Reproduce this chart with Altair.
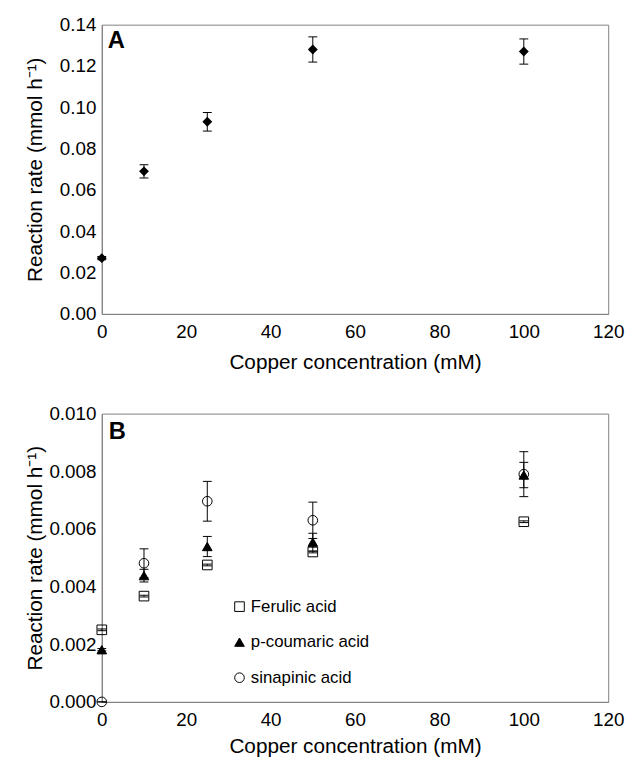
import altair as alt
import pandas as pd

# ---------------- data ----------------
copper = [0, 10, 25, 50, 100]

# Panel A
rate_a = [0.027, 0.069, 0.093, 0.128, 0.127]
err_a = [0.0008, 0.0032, 0.0045, 0.0061, 0.0061]

# Panel B
series_names = ["Ferulic acid", "p-coumaric acid", "sinapinic acid"]
ferulic = [0.0025, 0.00367, 0.00475, 0.0052, 0.00625]
ferulic_err = [0.00003, 0.00003, 0.00003, 0.00003, 0.00003]
coumaric = [0.00181, 0.00438, 0.00539, 0.00554, 0.00787]
coumaric_err = [0.00004, 0.00022, 0.00035, 0.00031, 0.00044]
sinapinic = [0.0, 0.00481, 0.00696, 0.0063, 0.0079]
sinapinic_err = [0.0, 0.0005, 0.00069, 0.00063, 0.00078]

x_ticks = [0, 20, 40, 60, 80, 100, 120]
y_ticks_a = [0.0, 0.02, 0.04, 0.06, 0.08, 0.10, 0.12, 0.14]
y_ticks_b = [0.0, 0.002, 0.004, 0.006, 0.008, 0.010]

# ---------------- tables ----------------
df_a = pd.DataFrame({"x": copper, "y": rate_a, "err": err_a})
df_a["lo"] = df_a["y"] - df_a["err"]
df_a["hi"] = df_a["y"] + df_a["err"]

rows = []
for name, vals, errs in zip(series_names,
                            [ferulic, coumaric, sinapinic],
                            [ferulic_err, coumaric_err, sinapinic_err]):
    for xv, yv, ev in zip(copper, vals, errs):
        rows.append({"series": name, "x": xv, "y": yv, "lo": yv - ev, "hi": yv + ev})
df_b = pd.DataFrame(rows)

FONT = "Liberation Sans"
GRAY = "#808080"
W = 513

x_title = "Copper concentration (mM)"
y_title = "Reaction rate (mmol h\u207b\u00b9)"


def x_enc(lpad, tpad):
    return alt.X("x:Q",
                 scale=alt.Scale(domain=[0, 120], nice=False, zero=False),
                 axis=alt.Axis(values=x_ticks, title=x_title, labelFlush=False,
                               labelOverlap=False, labelPadding=lpad, titlePadding=tpad))


def y_axis(vals, fmt, tpad):
    return alt.Axis(values=vals, format=fmt, title=y_title, labelPadding=6,
                    titlePadding=tpad, labelOverlap=False)


def error_layers(df, xenc, yscale, yaxis):
    base = alt.Chart(df)
    rule = base.mark_rule(color="black", strokeWidth=1).encode(
        x=xenc,
        y=alt.Y("lo:Q", scale=yscale, axis=yaxis),
        y2="hi:Q",
    )
    cap_lo = base.mark_tick(orient="horizontal", size=9, thickness=1,
                            color="black", opacity=1).encode(
        x="x:Q", y=alt.Y("lo:Q"))
    cap_hi = base.mark_tick(orient="horizontal", size=9, thickness=1,
                            color="black", opacity=1).encode(
        x="x:Q", y=alt.Y("hi:Q"))
    return [rule, cap_lo, cap_hi]


def panel_label(letter, px, py):
    return alt.Chart(pd.DataFrame({"t": [letter]})).mark_text(
        fontWeight="bold", fontSize=24, font=FONT, align="left",
        baseline="alphabetic", color="black").encode(
        text="t:N", x=alt.value(px), y=alt.value(py))


# ---------------- panel A ----------------
xenc_a = x_enc(9, 10)
yscale_a = alt.Scale(domain=[0, 0.14], nice=False)
yaxis_a = y_axis(y_ticks_a, ".2f", 14)

pts_a = alt.Chart(df_a).mark_point(shape="diamond", filled=True, color="black",
                                   size=100, opacity=1).encode(
    x=xenc_a,
    y=alt.Y("y:Q", scale=yscale_a, axis=yaxis_a),
)

panel_a = alt.layer(*error_layers(df_a, xenc_a, yscale_a, yaxis_a), pts_a,
                    panel_label("A", 6, 24)).properties(width=W, height=293)

# ---------------- panel B ----------------
xenc_b = x_enc(9, 6)
yscale_b = alt.Scale(domain=[0, 0.010], nice=False)
yaxis_b = y_axis(y_ticks_b, ".3f", 4)

legend_b = alt.Legend(title=None, orient="none", legendX=131, legendY=187,
                      labelFontSize=17, labelFont=FONT, labelColor="black",
                      symbolSize=95, symbolStrokeColor="black",
                      symbolStrokeWidth=1, rowPadding=18, labelOffset=3,
                      padding=0)

pts_b = alt.Chart(df_b).mark_point(size=95, opacity=1, filled=True, stroke="black",
                                   strokeWidth=1).encode(
    x=xenc_b,
    y=alt.Y("y:Q", scale=yscale_b, axis=yaxis_b),
    shape=alt.Shape("series:N",
                    scale=alt.Scale(domain=series_names,
                                    range=["square", "triangle-up", "circle"]),
                    legend=legend_b),
    color=alt.Color("series:N",
                    scale=alt.Scale(domain=series_names,
                                    range=["transparent", "black", "transparent"]),
                    legend=legend_b),
)

panel_b = alt.layer(*error_layers(df_b, xenc_b, yscale_b, yaxis_b), pts_b,
                    panel_label("B", 7, 26)).properties(width=W, height=292)

chart = alt.vconcat(panel_a, panel_b, spacing=31).resolve_legend(
    shape="independent", color="independent"
).properties(
    padding={"left": 15, "top": 2, "right": 0, "bottom": 0}
).configure_view(
    stroke=GRAY, strokeWidth=1
).configure_axis(
    grid=False, ticks=False, domainColor=GRAY, domainWidth=1,
    labelFont=FONT, labelFontSize=19, labelColor="black",
    titleFont=FONT, titleFontSize=21, titleFontWeight="normal", titleColor="black",
)

chart.save("out.html", embed_options={"renderer": "svg", "actions": False})
